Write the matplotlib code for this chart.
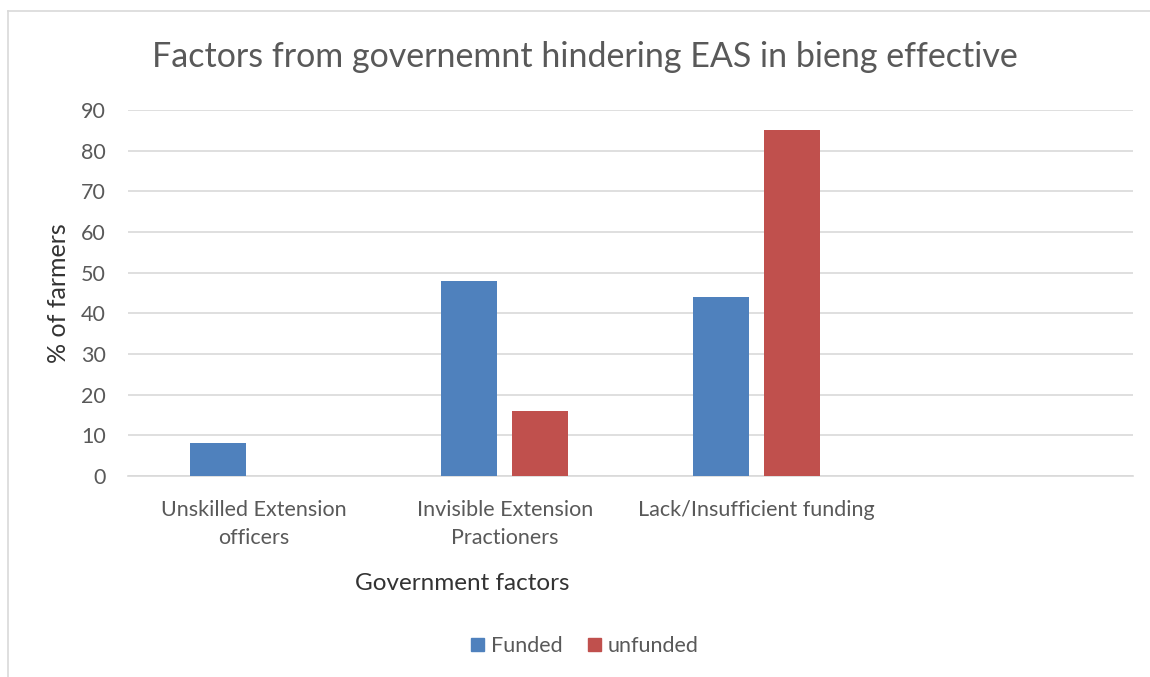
import matplotlib
matplotlib.use("Agg")
import matplotlib.pyplot as plt
from matplotlib.lines import Line2D
from matplotlib.patches import Patch
import numpy as np

categories = ["Unskilled Extension\nofficers", "Invisible Extension\nPractioners", "Lack/Insufficient funding", ""]
funded = [8, 48, 44, np.nan]
unfunded = [np.nan, 16, 85, np.nan]
series_names = ["Funded", "unfunded"]
yticks = [0, 10, 20, 30, 40, 50, 60, 70, 80, 90]

plt.rcParams['font.family'] = ['Lato', 'DejaVu Sans']
TXT = "#595959"
DARK = "#333333"
BLUE = "#4F81BD"
RED = "#C0504D"

fig = plt.figure(figsize=(11.5, 6.77), dpi=100)
ax = fig.add_axes([128/1150, 1-476/677, (1133-128)/1150, (476-110)/677])

x = np.arange(len(categories))
w = 0.223
off = 0.1415
ax.bar(x - off, funded, w, color=BLUE, zorder=3)
ax.bar(x + off, unfunded, w, color=RED, zorder=3)

ax.set_xlim(-0.5, len(categories) - 0.5)
ax.set_ylim(0, 90)
ax.set_yticks(yticks)
ax.yaxis.grid(True, color="#D9D9D9", linewidth=1.2, zorder=0)
ax.set_axisbelow(True)
for s in ["top", "right", "left"]:
    ax.spines[s].set_visible(False)
ax.spines["bottom"].set_color("#D9D9D9")
ax.spines["bottom"].set_linewidth(1.2)
ax.tick_params(axis="both", length=0, colors=TXT)
ax.tick_params(axis="y", pad=16, labelsize=15.5)
ax.tick_params(axis="x", pad=17, labelsize=15.5)
ax.set_xticks(x)
ax.set_xticklabels(categories, linespacing=1.5)

fig.text(59/1150, 1-293/677, "% of farmers", rotation=90, ha="center", va="center",
         fontsize=18, color=DARK)
fig.text(462/1150, 1-584/677, "Government factors", ha="center", va="center",
         fontsize=17.5, color=DARK)

fig.text(585/1150, 1-57/677, "Factors from governemnt hindering EAS in bieng effective",
         ha="center", va="center", fontsize=24.5, color=TXT)

handles = [Patch(color=BLUE), Patch(color=RED)]
fig.legend(handles, series_names, loc="center", bbox_to_anchor=(585/1150, 1-646/677),
           ncol=2, frameon=False, fontsize=15.5, labelcolor=TXT,
           handlelength=0.6, handleheight=0.6, handletextpad=0.3, columnspacing=1.2)

fig.add_artist(Line2D([8/1150, 1], [1-11/677, 1-11/677], color="#D9D9D9", linewidth=1.2, transform=fig.transFigure))
fig.add_artist(Line2D([8/1150, 8/1150], [0, 1-11/677], color="#D9D9D9", linewidth=1.2, transform=fig.transFigure))

fig.savefig("out.png", dpi=100)
